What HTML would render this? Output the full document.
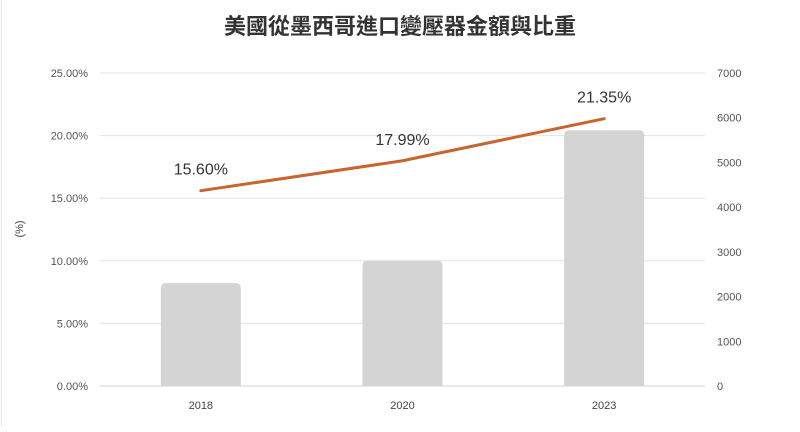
<!DOCTYPE html>
<html><head><meta charset="utf-8"><style>
body{margin:0;background:#fff;width:800px;height:427px;overflow:hidden}
svg text{font-family:"Liberation Sans","Noto Sans CJK TC",sans-serif}
</style></head><body>
<svg width="800" height="427" viewBox="0 0 800 427" xmlns="http://www.w3.org/2000/svg">
<line x1="1.5" y1="0" x2="1.5" y2="427" stroke="#e6e6e6"/>
<text x="400" y="34" text-anchor="middle" font-size="22" font-weight="bold" fill="#333">美國從墨西哥進口變壓器金額與比重</text>
<text transform="translate(23,229) rotate(-90)" text-anchor="middle" font-size="11" fill="#444">(%)</text>
<g id="grid"></g><g id="bars"></g><g id="line"></g><g id="labels"></g>
</svg>
<script>
const categories=["2018","2020","2023"];
const amounts=[2300,2800,5720];
const shares=[15.60,17.99,21.35];
const leftTicks=["0.00%","5.00%","10.00%","15.00%","20.00%","25.00%"];
const rightTicks=["0","1000","2000","3000","4000","5000","6000","7000"];
const NS="http://www.w3.org/2000/svg";
const x0=100,x1=705,yB=386,yT=73;
const yL=v=>yB-(v/25)*(yB-yT);
const yR=v=>yB-(v/7000)*(yB-yT);
const band=(x1-x0)/categories.length;
const xC=i=>x0+band*(i+0.5);
function mk(t,a,p){const e=document.createElementNS(NS,t);for(const k in a)e.setAttribute(k,a[k]);(p||document.querySelector('svg')).appendChild(e);return e;}
const grid=document.getElementById('grid');
leftTicks.forEach((t,i)=>{const y=yL(i*5);
 const g=mk('line',{x1:x0,x2:x1,y1:y,y2:y,stroke:i==0?'#d0d0d0':'#e3e3e3'},grid);
 
 
 const tx=mk('text',{x:88,y:y+4,'text-anchor':'end','font-size':11,fill:'#555'},grid);tx.textContent=t;
 
 });
rightTicks.forEach((t,i)=>{const y=yR(i*1000);
 const tx=mk('text',{x:717,y:y+4,'font-size':11,fill:'#555'},grid);tx.textContent=t;
 
 });
const bars=document.getElementById('bars');
categories.forEach((c,i)=>{const w=80,x=xC(i)-w/2,y=yR(amounts[i]),h=yB-y,r=5;
 const p=mk('path',{d:`M${x},${yB}V${y+r}Q${x},${y} ${x+r},${y}H${x+w-r}Q${x+w},${y} ${x+w},${y+r}V${yB}Z`,fill:'#d4d4d4'},bars);
 
 
 const tx=mk('text',{x:xC(i),y:409,'text-anchor':'middle','font-size':11,fill:'#444'},bars);tx.textContent=c;
 
 });
const pts=shares.map((v,i)=>[xC(i),yL(v)]);
const d='M'+pts[0]+' Q'+[ (pts[0][0]+pts[1][0])/2, (pts[0][1]+pts[1][1])/2 ]+' '+pts[1]+' T'+pts[2];
const ln=mk('polyline',{points:pts.map(p=>p.join(',')).join(' '),fill:'none',stroke:'#c8642e','stroke-width':3,'stroke-linejoin':'round','stroke-linecap':'round'},document.getElementById('line'));


shares.forEach((v,i)=>{const tx=mk('text',{x:pts[i][0],y:pts[i][1]-16,'text-anchor':'middle','font-size':16,fill:'#333'},document.getElementById('labels'));
 tx.textContent=v.toFixed(2)+'%';
 
 });
</script>
</body></html>
